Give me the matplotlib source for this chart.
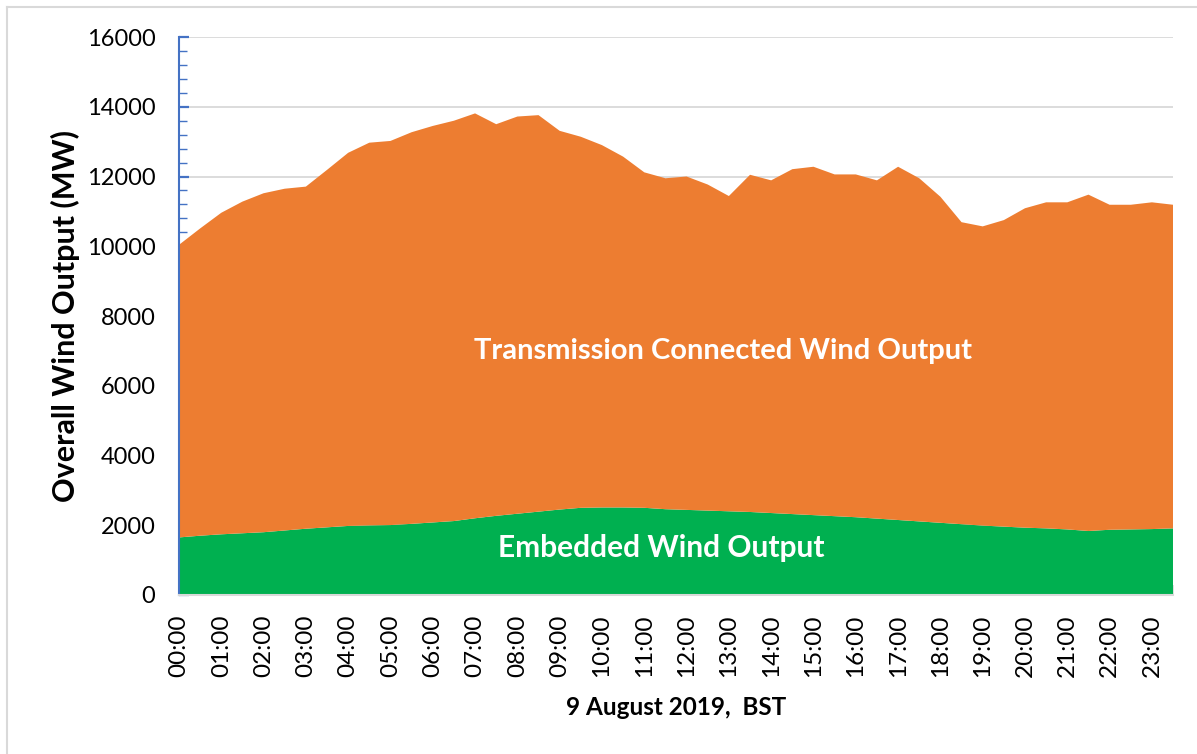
"""Embedded vs transmission-connected wind output, 9 Aug 2019 -> out.png."""
import numpy as np
import matplotlib
matplotlib.use("Agg")
import matplotlib.pyplot as plt
from matplotlib.lines import Line2D
from matplotlib.ticker import MultipleLocator

plt.rcParams["font.family"] = ["Lato", "DejaVu Sans"]

# half-hourly settlement periods, 00:00 .. 23:30
times = [f"{h:02d}:{m:02d}" for h in range(24) for m in (0, 30)]
hour_labels = [f"{h:02d}:00" for h in range(24)]

embedded = [1650, 1700, 1740, 1770, 1800, 1850, 1900, 1940, 1980, 1995,
            2005, 2040, 2080, 2120, 2200, 2270, 2330, 2390, 2450, 2500,
            2510, 2510, 2500, 2460, 2440, 2420, 2400, 2380, 2350, 2320,
            2290, 2260, 2230, 2190, 2150, 2110, 2070, 2030, 1990, 1960,
            1930, 1910, 1880, 1835, 1870, 1880, 1890, 1910]
transmission = [8390, 8810, 9220, 9510, 9720, 9800, 9810, 10250, 10700, 10975,
                11015, 11230, 11370, 11480, 11610, 11230, 11390, 11370, 10860, 10640,
                10390, 10060, 9620, 9490, 9560, 9350, 9040, 9670, 9540, 9890,
                9990, 9800, 9830, 9700, 10130, 9840, 9350, 8660, 8580, 8790,
                9160, 9350, 9380, 9645, 9320, 9310, 9370, 9280]

ORANGE = "#ED7D31"
GREEN = "#00B050"
BLUE = "#4472C4"
GRID = "#D9D9D9"

x = np.arange(len(times))

fig = plt.figure(figsize=(11.97, 7.54), dpi=100)
ax = fig.add_axes([0.1495, 0.2109, 0.8305, 0.7400])

ax.stackplot(x, embedded, transmission, colors=[GREEN, ORANGE], lw=0)

ax.set_xlim(0, len(times) - 1)
ax.set_ylim(0, 16000)
ax.yaxis.set_major_locator(MultipleLocator(2000))
ax.yaxis.set_minor_locator(MultipleLocator(400))
ax.set_xticks(x[::2])
ax.set_xticklabels(hour_labels, rotation=90)
ax.set_xticks(x, minor=True)

ax.grid(axis="y", color=GRID, lw=1.3)
ax.set_axisbelow(True)
for side in ("top", "right"):
    ax.spines[side].set_visible(False)
ax.spines["left"].set_color(BLUE)
ax.spines["left"].set_linewidth(1.5)
ax.spines["bottom"].set_color(GRID)
ax.spines["bottom"].set_linewidth(1.5)

ax.tick_params(axis="y", which="both", direction="in", colors=BLUE,
               labelcolor="black", labelsize=17, pad=17)
ax.tick_params(axis="y", which="major", length=7, width=1.6)
ax.tick_params(axis="y", which="minor", length=6, width=1.0)
ax.tick_params(axis="x", which="both", direction="in", colors=GRID,
               labelcolor="black", labelsize=17.5, length=7, width=1.2, pad=14)
for t in ax.get_xticklines() + ax.xaxis.get_minorticklines():
    t.set_zorder(5)

ax.set_ylabel("Overall Wind Output (MW)", fontsize=22, fontweight="bold", labelpad=5)
ax.set_xlabel("9 August 2019,  BST", fontsize=17.5, fontweight="bold", labelpad=14)

ax.text(25.7, 7000, "Transmission Connected Wind Output", color="white",
        fontsize=21, fontweight="bold", ha="center", va="center")
ax.text(22.8, 1350, "Embedded Wind Output", color="white",
        fontsize=21.5, fontweight="bold", ha="center", va="center")

# chart-area border as in the source spreadsheet export
fig.add_artist(Line2D([7 / 1197, 1], [1 - 7 / 754] * 2, color=GRID, lw=1.5,
                      transform=fig.transFigure))
fig.add_artist(Line2D([7 / 1197] * 2, [0, 1 - 7 / 754], color=GRID, lw=1.5,
                      transform=fig.transFigure))

fig.savefig("out.png", dpi=100)
